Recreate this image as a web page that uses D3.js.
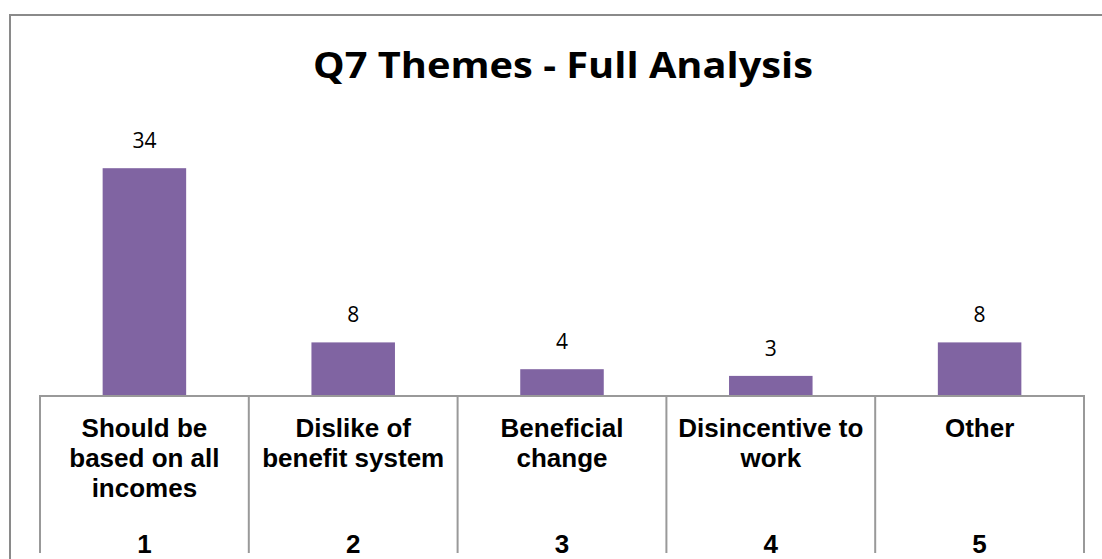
<!DOCTYPE html>
<meta charset='utf-8'>
<style>
  body { margin: 0; background: #fff; }
  .frame { fill: none; stroke: #8a8a8a; stroke-width: 2; }
  .grid line { stroke: #999; stroke-width: 2; }
  .cat { font: bold 26px 'Liberation Sans', Arial, sans-serif; fill: #000; text-anchor: middle; }
  .val { font: 21px 'Open Sans', sans-serif; fill: #000; text-anchor: middle; }
  .title { font: bold 35px 'Open Sans', sans-serif; fill: #000; text-anchor: middle; }
</style>
<body>
<script src='https://d3js.org/d3.v7.min.js'></script>
<script>
  const title = 'Q7 Themes - Full Analysis'
  const categories = [
    ['Should be', 'based on all', 'incomes'],
    ['Dislike of', 'benefit system'],
    ['Beneficial', 'change'],
    ['Disincentive to', 'work'],
    ['Other']
  ]
  const codes = ['1', '2', '3', '4', '5']
  const values = [34, 8, 4, 3, 8]

  const W = 1102, H = 559
  const plot = {left: 40, right: 1084, top: 128, base: 396, bottom: 553}

  const svg = d3.select('body').append('svg')
    .attr('width', W)
    .attr('height', H)

  // outer frame (only top and left edges are visible)
  svg.append('path')
    .attr('class', 'frame')
    .attr('d', `M10,${H}V15H${W}`)

  svg.append('text')
    .attr('class', 'title')
    .attr('x', 563)
    .attr('y', 78)
    .attr('textLength', 500)
    .attr('lengthAdjust', 'spacingAndGlyphs')
    .text(title)

  const x = d3.scaleBand()
    .domain(codes)
    .range([plot.left, plot.right])
    .padding(0)

  const y = d3.scaleLinear()
    .domain([0, 40])
    .range([plot.base, plot.top])

  const barW = x.bandwidth() * 0.4

  svg.selectAll('.bar')
    .data(values)
    .join('rect')
    .attr('class', 'bar')
    .attr('x', (d, i) => x(codes[i]) + (x.bandwidth() - barW) / 2)
    .attr('y', d => y(d))
    .attr('width', barW)
    .attr('height', d => y(0) - y(d))
    .attr('fill', '#8064a2')

  svg.selectAll('.val')
    .data(values)
    .join('text')
    .attr('class', 'val')
    .attr('x', (d, i) => x(codes[i]) + x.bandwidth() / 2)
    .attr('y', d => y(d) - 20)
    .text(d => d)

  // data-table style category axis
  const grid = svg.append('g').attr('class', 'grid')
  grid.append('line')
    .attr('x1', plot.left).attr('x2', plot.right)
    .attr('y1', plot.base).attr('y2', plot.base)
  grid.selectAll('.div')
    .data(codes.concat([null]))
    .join('line')
    .attr('class', 'div')
    .attr('x1', d => d === null ? plot.right : x(d))
    .attr('x2', d => d === null ? plot.right : x(d))
    .attr('y1', plot.base - 1)
    .attr('y2', plot.bottom)

  const cat = svg.selectAll('.cat')
    .data(categories)
    .join('text')
    .attr('class', 'cat')
    .attr('x', (d, i) => x(codes[i]) + x.bandwidth() / 2)
    .attr('y', 437)
  cat.selectAll('tspan')
    .data(d => d)
    .join('tspan')
    .attr('x', function () { return this.parentNode.getAttribute('x') })
    .attr('dy', (d, i) => i ? 30 : 0)
    .text(d => d)

  svg.selectAll('.code')
    .data(codes)
    .join('text')
    .attr('class', 'cat code')
    .attr('x', d => x(d) + x.bandwidth() / 2)
    .attr('y', 553)
    .text(d => d)
</script>
</body>
